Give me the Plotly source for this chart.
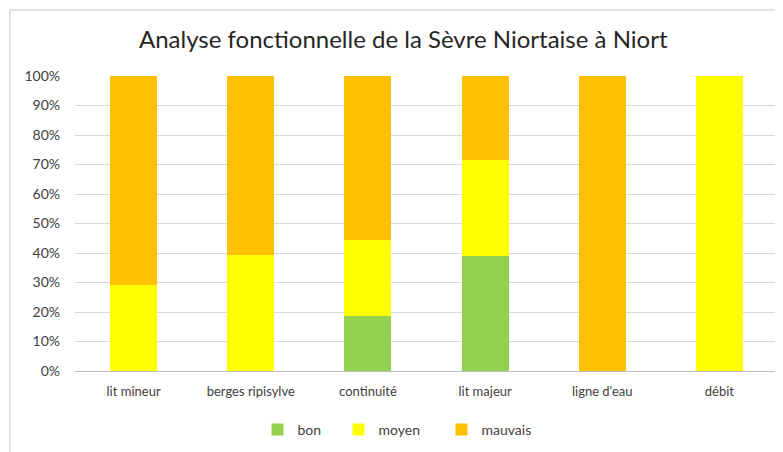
import plotly.graph_objects as go

categories = ["lit mineur", "berges ripisylve", "continuité", "lit majeur", "ligne d'eau", "débit"]
bon = [0, 0, 0.185, 0.39, 0, 0]
moyen = [0.29, 0.393, 0.258, 0.324, 0, 1.0]
mauvais = [0.71, 0.607, 0.557, 0.286, 1.0, 0]

series = [("bon", bon, "#92D050"), ("moyen", moyen, "#FFFF00"), ("mauvais", mauvais, "#FFC000")]
legend_ids = ["legend", "legend2", "legend3"]
legend_x = [0.2596, 0.3748, 0.5213]

fig = go.Figure()
for (name, vals, color), lid in zip(series, legend_ids):
    fig.add_trace(go.Bar(
        x=categories,
        y=vals,
        name=name,
        legend=lid,
        showlegend=True,
        marker=dict(color=color, line=dict(width=0)),
        width=0.4,
        hovertemplate=name + ': %{y:.0%}<extra></extra>'
    ))

# page body has an 8px margin, so the figure is a bit smaller than the window
font = "Lato, 'Open Sans', sans-serif"
legend_style = dict(orientation="h", xanchor="left", y=-0.145, yanchor="top",
                    visible=True, font=dict(family=font, size=14, color="#404040"))
fig.update_layout(
    barmode="stack",
    showlegend=True,
    width=775,
    height=444,
    paper_bgcolor="white",
    plot_bgcolor="white",
    margin=dict(l=67, r=5, t=68, b=81, autoexpand=False),
    title=dict(text="Analyse fonctionnelle de la Sèvre Niortaise à Niort",
               x=0.51, xanchor="center", y=0.928, yanchor="middle",
               font=dict(family=font, size=24, color="#262626")),
    legend=dict(x=legend_x[0], **legend_style),
    legend2=dict(x=legend_x[1], **legend_style),
    legend3=dict(x=legend_x[2], **legend_style),
    font=dict(family=font, size=12, color="#404040"),
    shapes=[dict(type="rect", xref="paper", yref="paper",
                 x0=-0.0925, x1=1.2, y0=-0.5, y1=1.224,
                 line=dict(color="#d9d9d9", width=1.5), layer="below")],
)
fig.update_yaxes(range=[0, 1], dtick=0.1, tickformat=".0%", showgrid=True,
                 gridcolor="#d9d9d9", zeroline=False, ticks="", showline=False,
                 ticklabelstandoff=14, tickfont=dict(size=14, color="#404040"))
fig.update_xaxes(showline=True, linecolor="#bfbfbf", ticks="outside", tickcolor="white",
                 ticklen=8, showgrid=False, tickfont=dict(size=13, color="#404040"))

fig.write_html("out.html")
